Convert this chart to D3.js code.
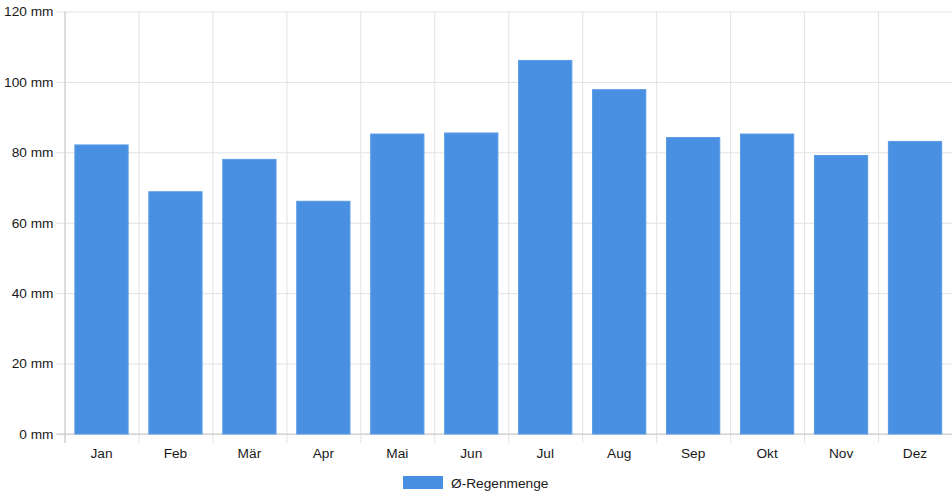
<!DOCTYPE html>
<html lang="de">
<head>
    <meta charset="UTF-8">
    <title>Regenmenge</title>
    <script src="https://d3js.org/d3.v7.min.js"></script>
    <style>
        body { margin: 0; background: #fff; }
        svg { display: block; font-family: "Liberation Sans", Arial, sans-serif; }
        .grid line { stroke: #e2e2e2; stroke-width: 1px; }
        .tick text { fill: #1a1a1a; font-size: 13.7px; }
        .legend text { fill: #1a1a1a; font-size: 13.7px; }
    </style>
</head>
<body>
    <svg id="chart"></svg>
    <script>
        // Daten
        const months = ["Jan", "Feb", "Mär", "Apr", "Mai", "Jun", "Jul", "Aug", "Sep", "Okt", "Nov", "Dez"];
        const rainfall = [82.1, 68.8, 78.0, 66.1, 85.2, 85.5, 106.1, 97.8, 84.2, 85.2, 79.1, 83.1];
        const yTicks = [0, 20, 40, 60, 80, 100, 120];
        const seriesName = "Ø-Regenmenge";

        const width = 952, height = 500;
        const margin = { top: 11.5, right: 0, bottom: 66, left: 64.5 };
        const innerW = width - margin.left - margin.right;
        const innerH = height - margin.top - margin.bottom;

        const svg = d3.select("#chart")
            .attr("width", width)
            .attr("height", height);

        const g = svg.append("g")
            .attr("transform", "translate(" + margin.left + "," + margin.top + ")");

        const x = d3.scaleBand()
            .domain(months)
            .range([0, innerW]);

        const y = d3.scaleLinear()
            .domain([0, 120])
            .range([innerH, 0]);

        // horizontal grid lines + y ticks
        const yg = g.append("g").attr("class", "grid")
            .call(d3.axisLeft(y).tickValues(yTicks).tickSize(-innerW).tickPadding(4).tickFormat(d => d + " mm"));
        yg.select(".domain").remove();
        yg.selectAll(".tick line").attr("x1", -8);
        yg.selectAll(".tick text").attr("x", -11);

        // vertical grid lines at category borders
        const bounds = months.map(m => x(m)).concat([innerW]);
        g.append("g").attr("class", "grid")
            .selectAll("line")
            .data(bounds)
            .enter().append("line")
            .attr("x1", d => d + 0.5)
            .attr("x2", d => d + 0.5)
            .attr("y1", 0)
            .attr("y2", innerH + 9);

        // axis lines
        g.append("line")
            .attr("x1", 0.5).attr("x2", 0.5)
            .attr("y1", 0).attr("y2", innerH + 9)
            .attr("stroke", "#c8c8c8");
        g.append("line")
            .attr("x1", -8).attr("x2", innerW)
            .attr("y1", innerH).attr("y2", innerH)
            .attr("stroke", "#c8c8c8");

        // x labels
        const xg = g.append("g")
            .attr("transform", "translate(0," + innerH + ")")
            .call(d3.axisBottom(x).tickSize(0).tickPadding(14));
        xg.select(".domain").remove();

        // bars (category 80%, bar 90%)
        const barW = x.bandwidth() * 0.72;
        g.selectAll(".bar")
            .data(rainfall)
            .enter().append("rect")
            .attr("class", "bar")
            .attr("x", (d, i) => x(months[i]) + (x.bandwidth() - barW) / 2)
            .attr("y", d => y(d))
            .attr("width", barW)
            .attr("height", d => innerH - y(d))
            .attr("fill", "#4a90e2")
            .attr("stroke", "#5a9be6")
            .attr("stroke-width", 1);

        // legend
        const legend = svg.append("g")
            .attr("class", "legend")
            .attr("transform", "translate(403,476)");
        legend.append("rect")
            .attr("width", 40)
            .attr("height", 13)
            .attr("fill", "#4a90e2");
        legend.append("text")
            .attr("x", 48)
            .attr("y", 11.5)
            .text(seriesName);
    </script>
</body>
</html>
